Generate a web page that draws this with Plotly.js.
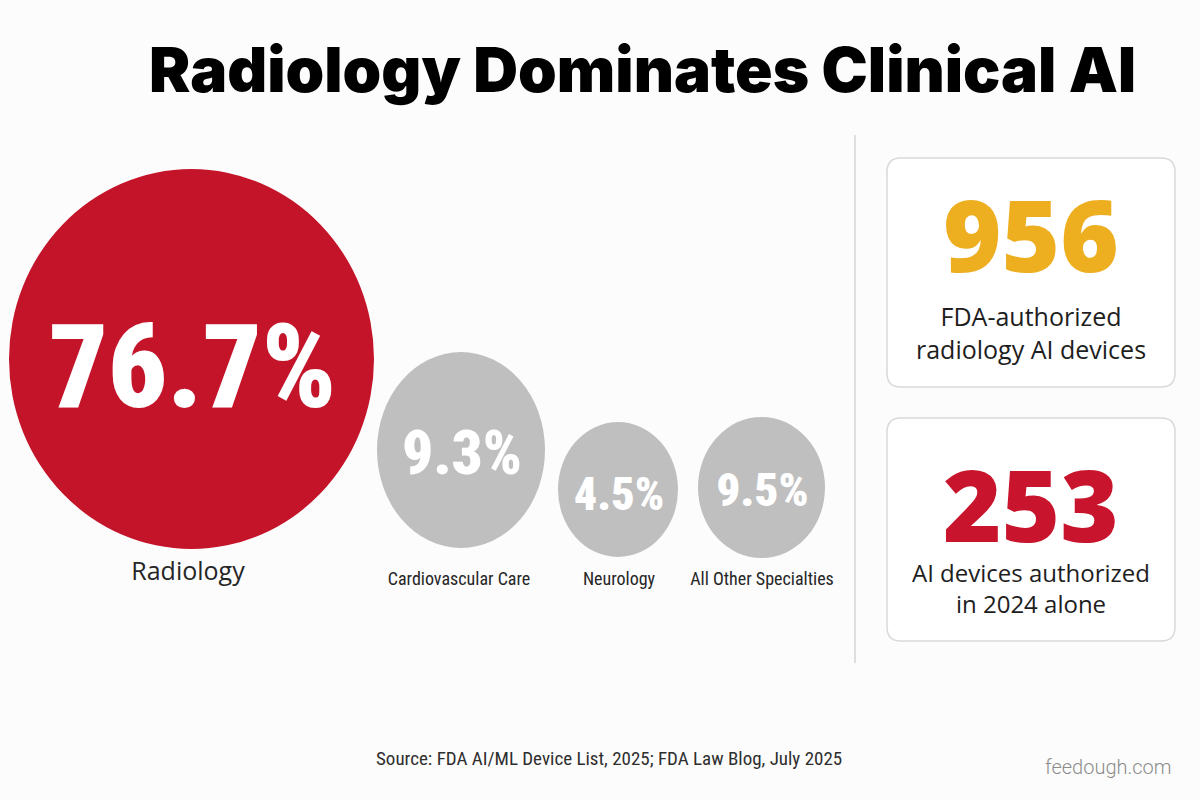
<!DOCTYPE html>
<html>
<head>
<meta charset="utf-8">
<script src="https://cdn.plot.ly/plotly-3.0.1.min.js"></script>
<style>html,body{margin:0;padding:0;background:#fcfcfc;}</style>
</head>
<body>
<div id="chart" style="width:1200px;height:800px;"></div>
<script>
// ---- data ----
const categories = ["Radiology", "Cardiovascular Care", "Neurology", "All Other Specialties"];
const shares = [76.7, 9.3, 4.5, 9.5];
const cardValues = [956, 253];
const cardLabels = ["FDA-authorized<br>radiology AI devices", "AI devices authorized<br>in 2024 alone"];
const titleText = "Radiology Dominates Clinical AI";
const sourceText = "Source: FDA AI/ML Device List, 2025; FDA Law Blog, July 2025";
const brandText = "feedough.com";

// ---- layout geometry & styles (not data) ----
const bubbleGeom = [
  {cx: 191.5, cy: 359, rx: 182.5, ry: 190, font: 116, ty: 366},
  {cx: 461, cy: 450, rx: 84, ry: 98, font: 61, ty: 453},
  {cx: 618, cy: 489.5, rx: 60, ry: 67.5, font: 46, ty: 494},
  {cx: 761.5, cy: 487.5, rx: 63.5, ry: 70.5, font: 47, ty: 490}
];
const labelStyle = [
  {x: 188, y: 574, size: 25, family: "'Open Sans', 'Noto Sans', sans-serif", weight: 500},
  {x: 459, y: 580, size: 18, family: "'Roboto Condensed', 'Open Sans Condensed', sans-serif", weight: 400},
  {x: 619, y: 580, size: 18, family: "'Roboto Condensed', 'Open Sans Condensed', sans-serif", weight: 400},
  {x: 762, y: 580, size: 18, family: "'Roboto Condensed', 'Open Sans Condensed', sans-serif", weight: 400}
];
const leadColor = "#c4142a";
const otherColor = "#bfbfbf";
const cardBoxes = [
  {x0: 887, x1: 1175, y0: 158, y1: 387, valY: 233, labY: 332.5, labSize: 25, color: "#edae1f"},
  {x0: 887, x1: 1175, y0: 418, y1: 641, valY: 503, labY: 588, labSize: 24, color: "#c8142c"}
];
const cond = "'Roboto Condensed', 'Open Sans Condensed', sans-serif";

function roundRect(b, r) {
  return `M ${b.x0 + r},${b.y0} L ${b.x1 - r},${b.y0} Q ${b.x1},${b.y0} ${b.x1},${b.y0 + r} ` +
         `L ${b.x1},${b.y1 - r} Q ${b.x1},${b.y1} ${b.x1 - r},${b.y1} L ${b.x0 + r},${b.y1} ` +
         `Q ${b.x0},${b.y1} ${b.x0},${b.y1 - r} L ${b.x0},${b.y0 + r} Q ${b.x0},${b.y0} ${b.x0 + r},${b.y0} Z`;
}

const maxShare = Math.max(...shares);
const shapes = [];
shares.forEach((v, i) => {
  const g = bubbleGeom[i];
  shapes.push({
    type: "circle", xref: "x", yref: "y", layer: "below",
    x0: g.cx - g.rx, x1: g.cx + g.rx, y0: g.cy - g.ry, y1: g.cy + g.ry,
    fillcolor: v === maxShare ? leadColor : otherColor,
    line: {width: 0}
  });
});
// divider
shapes.push({type: "line", xref: "x", yref: "y", x0: 855, x1: 855, y0: 135, y1: 663,
  line: {color: "#d4d4d4", width: 1.5}, layer: "below"});
// cards
cardBoxes.forEach(b => {
  shapes.push({type: "path", xref: "x", yref: "y", path: roundRect(b, 14),
    fillcolor: "#ffffff", line: {color: "#d9d9d9", width: 1.5}, layer: "below"});
});

const traces = [
  {
    type: "scatter", mode: "text",
    x: bubbleGeom.map(g => g.cx + 1), y: bubbleGeom.map(g => g.ty + 0.1 * g.font),
    text: shares.map(v => v.toFixed(1) + "%"),
    textposition: "middle center",
    textfont: {family: cond, size: bubbleGeom.map(g => g.font), color: "#ffffff", weight: 900},
    hoverinfo: "skip", showlegend: false
  }
];
categories.forEach((c, i) => {
  const l = labelStyle[i];
  traces.push({
    type: "scatter", mode: "text", x: [l.x], y: [l.y], text: [c],
    textposition: "middle center",
    textfont: {family: l.family, size: l.size, color: "#262626", weight: l.weight},
    hoverinfo: "skip", showlegend: false
  });
});

const annotations = [];
cardValues.forEach((v, i) => {
  const b = cardBoxes[i];
  annotations.push({
    xref: "x", yref: "y", x: (b.x0 + b.x1) / 2, y: b.valY, text: String(v), showarrow: false,
    xanchor: "center", yanchor: "middle",
    font: {family: "'Open Sans', 'Noto Sans', sans-serif", size: 100, color: b.color, weight: 800}
  });
  annotations.push({
    xref: "x", yref: "y", x: (b.x0 + b.x1) / 2, y: b.labY, text: cardLabels[i], showarrow: false,
    xanchor: "center", yanchor: "middle", align: "center",
    font: {family: "'Open Sans', 'Noto Sans', sans-serif", size: b.labSize, color: "#1e1e1e", weight: 500}
  });
});
annotations.push({
  xref: "x", yref: "y", x: 609, y: 758, text: sourceText, showarrow: false,
  xanchor: "center", yanchor: "middle",
  font: {family: cond, size: 19, color: "#2e2e2e"}
});
annotations.push({
  xref: "x", yref: "y", x: 1174, y: 767, text: brandText, showarrow: false,
  xanchor: "right", yanchor: "middle",
  font: {family: "Roboto, 'Noto Sans', sans-serif", size: 20, color: "#8c8c8c", weight: 300}
});

const layout = {
  width: 1200, height: 800,
  margin: {l: 0, r: 0, t: 0, b: 0},
  paper_bgcolor: "#fcfcfc", plot_bgcolor: "rgba(0,0,0,0)",
  title: {
    text: titleText, x: 0.5355, xanchor: "center", y: 0.912, yanchor: "middle",
    font: {family: "Inter, 'Noto Sans', sans-serif", size: 62, color: "#000000", weight: 900}
  },
  xaxis: {range: [0, 1200], visible: false, fixedrange: true},
  yaxis: {range: [800, 0], visible: false, fixedrange: true},
  shapes: shapes,
  annotations: annotations,
  showlegend: false
};

Plotly.newPlot("chart", traces, layout, {displayModeBar: false, staticPlot: true});
</script>
</body>
</html>
